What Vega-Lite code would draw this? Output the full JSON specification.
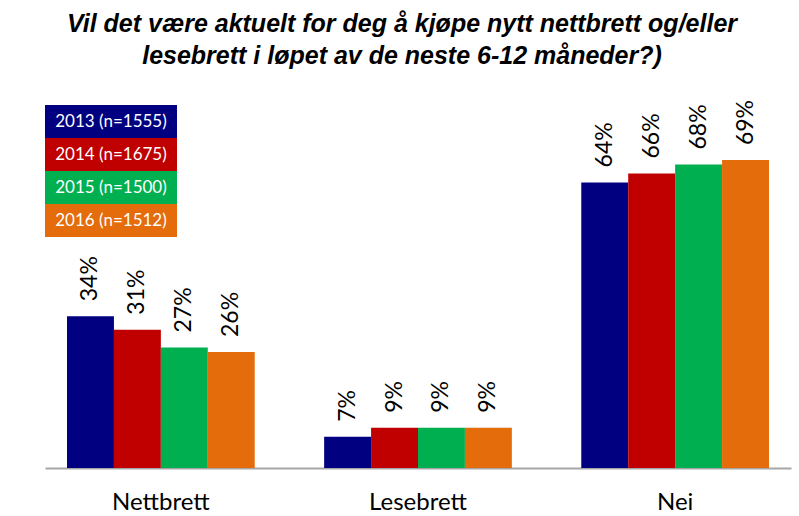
{
  "$schema": "https://vega.github.io/schema/vega-lite/v6.json",
  "width": 746,
  "height": 357,
  "autosize": {"type": "none"},
  "padding": {"left": 45, "top": 111, "right": 8, "bottom": 48},
  "background": "white",
  "title": {
    "text": ["Vil det være aktuelt for deg å kjøpe nytt nettbrett og/eller", "lesebrett i løpet av de neste 6-12 måneder?)"],
    "font": "Liberation Sans",
    "fontSize": 25,
    "fontWeight": "bold",
    "fontStyle": "italic",
    "color": "black",
    "lineHeight": 32,
    "anchor": "middle",
    "offset": 31,
    "dx": -16
  },
  "data": {
    "values": [
      {"cat": "Nettbrett", "year": "2013 (n=1555)", "pct": 34, "label": "34%"},
      {"cat": "Nettbrett", "year": "2014 (n=1675)", "pct": 31, "label": "31%"},
      {"cat": "Nettbrett", "year": "2015 (n=1500)", "pct": 27, "label": "27%"},
      {"cat": "Nettbrett", "year": "2016 (n=1512)", "pct": 26, "label": "26%"},
      {"cat": "Lesebrett", "year": "2013 (n=1555)", "pct": 7, "label": "7%"},
      {"cat": "Lesebrett", "year": "2014 (n=1675)", "pct": 9, "label": "9%"},
      {"cat": "Lesebrett", "year": "2015 (n=1500)", "pct": 9, "label": "9%"},
      {"cat": "Lesebrett", "year": "2016 (n=1512)", "pct": 9, "label": "9%"},
      {"cat": "Nei", "year": "2013 (n=1555)", "pct": 64, "label": "64%"},
      {"cat": "Nei", "year": "2014 (n=1675)", "pct": 66, "label": "66%"},
      {"cat": "Nei", "year": "2015 (n=1500)", "pct": 68, "label": "68%"},
      {"cat": "Nei", "year": "2016 (n=1512)", "pct": 69, "label": "69%"}
    ]
  },
  "encoding": {
    "x": {
      "field": "cat", "type": "nominal", "sort": ["Nettbrett", "Lesebrett", "Nei"],
      "scale": {"paddingInner": 0.27, "paddingOuter": 0.0856},
      "axis": {
        "title": null, "labelAngle": 0, "ticks": false, "labelPadding": 22,
        "labelFont": "Lato", "labelFontSize": 24, "labelColor": "black",
        "domainColor": "#a6a6a6", "domainWidth": 2
      }
    },
    "xOffset": {"field": "year", "type": "nominal", "scale": {"paddingInner": 0, "paddingOuter": 0}},
    "y": {
      "field": "pct", "type": "quantitative",
      "scale": {"domain": [0, 80]},
      "axis": null
    }
  },
  "layer": [
    {
      "mark": {"type": "bar"},
      "encoding": {
        "color": {
          "field": "year", "type": "nominal",
          "scale": {"range": ["#000080", "#C00000", "#00B050", "#E46C0A"]},
          "legend": {
            "title": null,
            "orient": "none",
            "legendX": 0,
            "legendY": -6,
            "symbolType": "M-1,-1H7V1H-1Z",
            "symbolSize": 1089,
            "symbolStrokeWidth": 0,
            "symbolOpacity": 1,
            "labelColor": "white",
            "labelFont": "Lato",
            "labelFontSize": 17,
            "labelAlign": "center",
            "labelOffset": 33,
            "rowPadding": 0,
            "padding": 0,
            "offset": 0
          }
        }
      }
    },
    {
      "mark": {"type": "text", "angle": -90, "align": "left", "baseline": "middle", "dx": 15, "font": "Lato", "fontSize": 23, "color": "black"},
      "encoding": {
        "text": {"field": "label", "type": "nominal"},
        "detail": {"field": "year"}
      }
    }
  ],
  "config": {"view": {"stroke": null}}
}
